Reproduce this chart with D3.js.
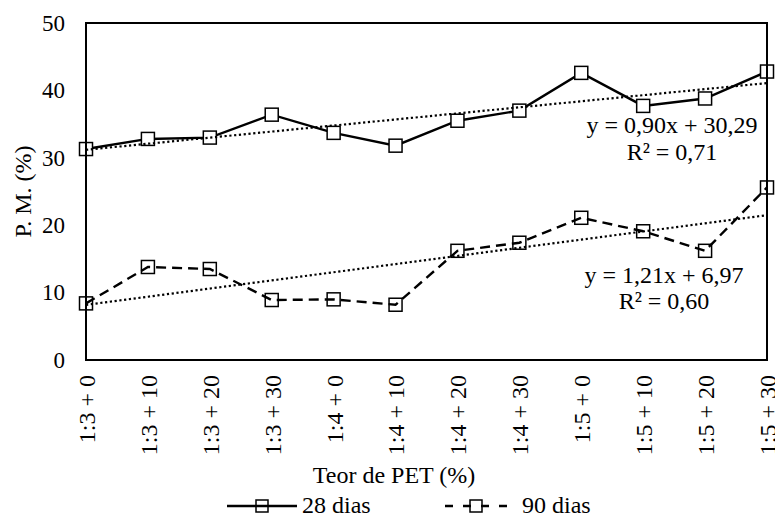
<!DOCTYPE html>
<html>
<head>
<meta charset="utf-8">
<script src="https://cdn.jsdelivr.net/npm/d3@7"></script>
<style>
  body { margin: 0; background: #fff; }
  svg text { font-family: "Liberation Serif", "Times New Roman", serif; font-size: 24px; fill: #000; }
</style>
</head>
<body>
<div id="chart"></div>
<script>
const WIDTH  = 775;
const HEIGHT = 517;
const MARGIN = { top: 23, right: 8, bottom: 157, left: 86 };
const INNER_WIDTH  = WIDTH - MARGIN.left - MARGIN.right;
const INNER_HEIGHT = HEIGHT - MARGIN.top - MARGIN.bottom;

// data
const categories = ['1:3 + 0', '1:3 + 10', '1:3 + 20', '1:3 + 30', '1:4 + 0', '1:4 + 10',
                    '1:4 + 20', '1:4 + 30', '1:5 + 0', '1:5 + 10', '1:5 + 20', '1:5 + 30'];
const dias28 = [31.3, 32.8, 33.0, 36.4, 33.7, 31.8, 35.5, 37.0, 42.6, 37.7, 38.8, 42.8];
const dias90 = [8.4, 13.8, 13.5, 8.9, 9.0, 8.2, 16.2, 17.4, 21.1, 19.1, 16.2, 25.6];
const trend28 = [0.90, 30.29];   // slope, intercept
const trend90 = [1.21, 6.97];
const eq28 = ['y = 0,90x + 30,29', 'R² = 0,71'];
const eq90 = ['y = 1,21x + 6,97', 'R² = 0,60'];
const yTicks = [0, 10, 20, 30, 40, 50];

const svg = d3.select('#chart').append('svg')
  .attr('width', WIDTH)
  .attr('height', HEIGHT)
  .append('g')
    .attr('transform', 'translate(' + MARGIN.left + ',' + MARGIN.top + ')');

const x = d3.scalePoint().domain(categories).range([0, INNER_WIDTH]).padding(0);
const y = d3.scaleLinear().domain([0, 50]).range([INNER_HEIGHT, 0]);

// axes (labels only, no tick marks)
const yAxis = d3.axisLeft(y).tickValues(yTicks).tickSize(0).tickPadding(21);
const xAxis = d3.axisBottom(x).tickSize(0);

svg.append('g')
  .attr('class', 'y axis')
  .call(yAxis)
  .call(g => g.select('.domain').remove())
  .selectAll('text')
    .style('font-size', '23px')
    .attr('font-family', null);

svg.append('g')
  .attr('class', 'x axis')
  .attr('transform', 'translate(0,' + INNER_HEIGHT + ')')
  .call(xAxis)
  .call(g => g.select('.domain').remove())
  .selectAll('text')
    .attr('font-family', null)
    .style('font-size', '24px')
    .attr('transform', 'rotate(-90)')
    .attr('x', -15)
    .attr('y', 0)
    .attr('dy', '0.35em')
    .style('text-anchor', 'end');

// series lines
const line = d3.line()
  .x((d, i) => x(categories[i]))
  .y(d => y(d));

function markers(data) {
  svg.append('g').selectAll('rect')
    .data(data)
    .enter().append('rect')
      .attr('x', (d, i) => x(categories[i]) - 6.5)
      .attr('y', d => y(d) - 6.5)
      .attr('width', 13)
      .attr('height', 13)
      .attr('fill', '#fff')
      .attr('stroke', '#000')
      .attr('stroke-width', 1.5);
}

// 28 dias: line under white markers
svg.append('path')
  .datum(dias28)
  .attr('d', line)
  .attr('fill', 'none')
  .attr('stroke', '#000')
  .attr('stroke-width', 2.4);
markers(dias28);

// 90 dias: markers under dashed line
markers(dias90);
svg.append('path')
  .datum(dias90)
  .attr('d', line)
  .attr('fill', 'none')
  .attr('stroke', '#000')
  .attr('stroke-width', 2.4)
  .attr('stroke-dasharray', '10,6');

// trend lines
function trend(coef) {
  const n = categories.length;
  svg.append('line')
    .attr('x1', x(categories[0]))
    .attr('y1', y(coef[0] * 1 + coef[1]))
    .attr('x2', x(categories[n - 1]))
    .attr('y2', y(coef[0] * n + coef[1]))
    .attr('stroke', '#000')
    .attr('stroke-width', 2.2)
    .attr('stroke-dasharray', '2.2,2.6');
}
trend(trend28);
trend(trend90);

// plot frame
svg.append('rect')
  .attr('width', INNER_WIDTH)
  .attr('height', INNER_HEIGHT)
  .attr('fill', 'none')
  .attr('stroke', '#000')
  .attr('stroke-width', 2);

// equations
svg.append('text').attr('x', 586).attr('y', 110).style('text-anchor', 'middle').text(eq28[0]);
svg.append('text').attr('x', 586).attr('y', 137).style('text-anchor', 'middle').text(eq28[1]);
svg.append('text').attr('x', 578).attr('y', 260).style('text-anchor', 'middle').text(eq90[0]);
svg.append('text').attr('x', 578).attr('y', 286).style('text-anchor', 'middle').text(eq90[1]);

// text label for the x axis
svg.append('text')
  .attr('x', 394 - MARGIN.left)
  .attr('y', 483 - MARGIN.top)
  .style('text-anchor', 'middle')
  .text('Teor de PET (%)');

// text label for the y axis
svg.append('text')
  .attr('transform', 'rotate(-90)')
  .attr('x', -INNER_HEIGHT / 2)
  .attr('y', 31 - MARGIN.left)
  .style('text-anchor', 'middle')
  .text('P. M. (%)');

// legend
const legend = svg.append('g').attr('transform', 'translate(' + (-MARGIN.left) + ',' + (-MARGIN.top) + ')');
const legendItems = [
  { name: '28 dias', x1: 227, x2: 297, tx: 302, dash: null },
  { name: '90 dias', x1: 445, x2: 507, tx: 522, dash: '8,10' }
];
legendItems.forEach(item => {
  const cx = (item.x1 + item.x2) / 2;
  legend.append('rect')
    .attr('x', cx - 6).attr('y', 500)
    .attr('width', 12).attr('height', 12)
    .attr('fill', '#fff').attr('stroke', '#000').attr('stroke-width', 1.5);
  legend.append('line')
    .attr('x1', item.x1).attr('x2', item.x2)
    .attr('y1', 506).attr('y2', 506)
    .attr('stroke', '#000').attr('stroke-width', 2.4)
    .attr('stroke-dasharray', item.dash);
  legend.append('text')
    .attr('x', item.tx).attr('y', 513)
    .text(item.name);
});
</script>
</body>
</html>
